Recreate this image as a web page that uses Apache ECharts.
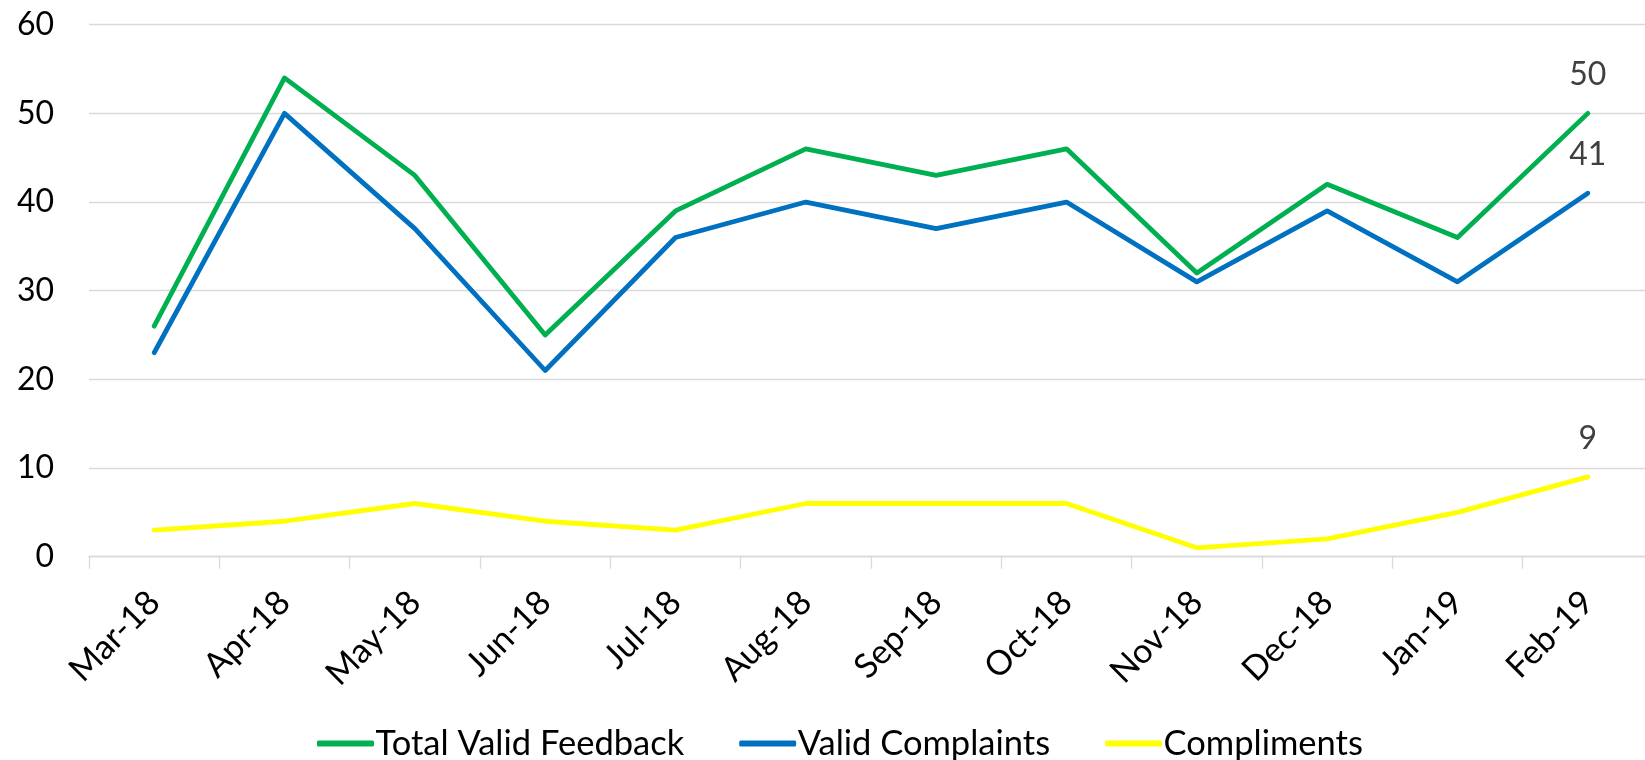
<!DOCTYPE html>
<html>
<head>
<meta charset="utf-8">
<script src="https://cdn.jsdelivr.net/npm/echarts@6/dist/echarts.min.js"></script>
<style>
html,body{margin:0;padding:0;background:#fff;}
#chart{width:1645px;height:760px;}
</style>
</head>
<body>
<div id="chart"></div>
<script>
var categories = ['Mar-18','Apr-18','May-18','Jun-18','Jul-18','Aug-18','Sep-18','Oct-18','Nov-18','Dec-18','Jan-19','Feb-19'];
var totalValidFeedback = [26, 54, 43, 25, 39, 46, 43, 46, 32, 42, 36, 50];
var validComplaints = [23, 50, 37, 21, 36, 40, 37, 40, 31, 39, 31, 41];
var compliments = [3, 4, 6, 4, 3, 6, 6, 6, 1, 2, 5, 9];
var yTicks = {min: 0, max: 60, interval: 10};

var FONT = 'Lato, "Noto Sans", sans-serif';

function withLastLabel(arr) {
  return arr.map(function (v, i) {
    if (i === arr.length - 1) {
      return {value: v, label: {show: true}};
    }
    return v;
  });
}

function makeSeries(name, data, color) {
  return {
    name: name,
    type: 'line',
    data: withLastLabel(data),
    symbol: 'circle',
    symbolSize: 1,
    showSymbol: true,
    lineStyle: {color: color, width: 4.8, cap: 'round', join: 'round'},
    itemStyle: {color: color},
    label: {
      show: false,
      position: 'top',
      distance: 22,
      color: '#404040',
      fontFamily: FONT,
      fontSize: 32
    },
    emphasis: {disabled: true},
    animation: false
  };
}

var chart = echarts.init(document.getElementById('chart'), null, {renderer: 'canvas'});
chart.setOption({
  backgroundColor: '#ffffff',
  animation: false,
  grid: {
    left: 89,
    top: 24.7,
    width: 1564,
    height: 532,
    containLabel: false,
    outerBoundsMode: 'none'
  },
  legend: {
    left: 312,
    top: 721,
    itemWidth: 57,
    itemHeight: 6,
    itemGap: 55,
    icon: 'roundRect',
    textStyle: {fontFamily: FONT, fontSize: 34.5, color: '#000000', padding: [0, 0, 0, -3.5]},
    data: ['Total Valid Feedback', 'Valid Complaints', 'Compliments']
  },
  xAxis: {
    type: 'category',
    data: categories,
    boundaryGap: true,
    axisLine: {show: true, lineStyle: {color: '#D9D9D9', width: 1.3}},
    axisTick: {show: true, length: 12, lineStyle: {color: '#D9D9D9', width: 1.3}},
    axisLabel: {
      rotate: 45,
      margin: 40,
      interval: 0,
      color: '#000000',
      fontFamily: FONT,
      fontSize: 34
    },
    splitLine: {show: false}
  },
  yAxis: {
    type: 'value',
    min: yTicks.min,
    max: yTicks.max,
    interval: yTicks.interval,
    axisLine: {show: false},
    axisTick: {show: false},
    axisLabel: {
      margin: 35,
      color: '#000000',
      fontFamily: FONT,
      fontSize: 32
    },
    splitLine: {show: true, lineStyle: {color: '#D9D9D9', width: 1.3}}
  },
  series: [
    makeSeries('Total Valid Feedback', totalValidFeedback, '#00B050'),
    makeSeries('Valid Complaints', validComplaints, '#0070C0'),
    makeSeries('Compliments', compliments, '#FFFF00')
  ]
});
</script>
</body>
</html>
